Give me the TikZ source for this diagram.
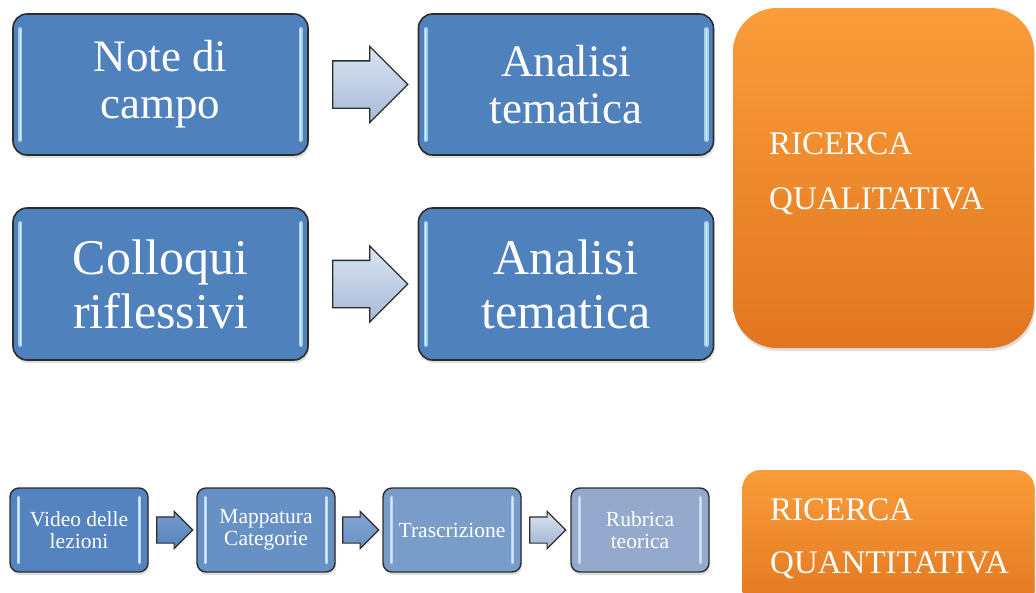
\documentclass[tikz,border=0pt]{standalone}
\usepackage{fontspec}
\setmainfont{LiberationSerif}[Extension=.ttf, UprightFont=*-Regular, BoldFont=*-Bold, ItalicFont=*-Italic, BoldItalicFont=*-BoldItalic]
\usetikzlibrary{shapes.arrows,shadows,calc}
\definecolor{boxblue}{RGB}{79,129,189}
\definecolor{boxline}{RGB}{45,45,45}
\definecolor{bevelblue}{RGB}{165,205,242}
\definecolor{blueA}{RGB}{84,131,191}
\definecolor{blueB}{RGB}{103,145,197}
\definecolor{blueC}{RGB}{122,156,200}
\definecolor{blueD}{RGB}{148,170,204}
\definecolor{arrowtop}{RGB}{218,228,242}
\definecolor{arrowbot}{RGB}{168,186,216}
\definecolor{orangetop}{RGB}{250,157,58}
\definecolor{orangebot}{RGB}{226,118,32}
\tikzset{
  dshadow/.style={drop shadow={shadow xshift=1pt, shadow yshift=-3pt, opacity=0.25}},
  bigbox/.style={draw=boxline, line width=1.6pt, rounded corners=14pt, fill=boxblue,
    text=white, align=center, inner sep=0pt, minimum width=295pt, minimum height=141pt,
    font=\fontsize{45}{47}\selectfont, dshadow},
  smallbox/.style={draw=boxline, line width=1.4pt, rounded corners=9pt,
    text=white, align=center, inner sep=0pt, minimum width=138pt, minimum height=84pt,
    font=\fontsize{21.5}{22}\selectfont, dshadow},
  bigarrow/.style={single arrow, draw=boxline, line width=1.3pt, top color=arrowtop,
    bottom color=arrowbot, minimum width=67pt, minimum height=75pt,
    single arrow head extend=14.5pt, inner xsep=0pt, inner ysep=23pt, outer sep=0pt, anchor=tail},
  smallarrow/.style={single arrow, draw=boxline, line width=1.2pt,
    minimum width=35pt, minimum height=36pt,
    single arrow head extend=5.5pt, inner xsep=0pt, inner ysep=12.5pt, outer sep=0pt, anchor=tail},
  orangebox/.style={rounded corners=#1, top color=orangetop, bottom color=orangebot,
    draw=none, minimum width=301pt, inner sep=0pt, dshadow},
  otext/.style={text=white, align=left, inner sep=0pt, anchor=north west},
  bevel/.style={draw=bevelblue, line width=1.6pt, double=white!70!bevelblue,
    double distance=1.2pt, line cap=round},
  sbevel/.style={draw=bevelblue!80!white, line width=1.2pt, double=white!60!bevelblue,
    double distance=1pt, line cap=round}
}
\begin{document}
\begin{tikzpicture}[x=1pt,y=-1pt]
\useasboundingbox (0,0) rectangle (1036,592);
\fill[white] (0,0) rectangle (1036,592);

% top rows
\node[bigbox] (note) at (160.5,84.5) {Note di\\campo};
\node[bigbox] (an1) at (566,84.5) {Analisi\\tematica};
\node[bigbox, minimum height=152pt, font=\fontsize{50}{54}\selectfont] (coll) at (160.5,284) {Colloqui\\riflessivi};
\node[bigbox, minimum height=152pt, font=\fontsize{50}{54}\selectfont] (an2) at (566,284) {Analisi\\tematica};

\foreach \n in {note,an1,coll,an2}{
  \draw[bevel] ([xshift=8pt,yshift=-16pt]\n.north west) -- ([xshift=8pt,yshift=16pt]\n.south west);
  \draw[bevel] ([xshift=-8pt,yshift=-16pt]\n.north east) -- ([xshift=-8pt,yshift=16pt]\n.south east);
}

\node[bigarrow] (ar1) at ([xshift=24pt]note.east) {};
\node[bigarrow] (ar2) at ([xshift=24pt]coll.east) {};

% qualitative
\node[orangebox=44pt, minimum height=340pt] (qual) at (883.5,178) {};
\node[otext, font=\fontsize{33}{55}\selectfont] (qualt) at (769,132.5) {RICERCA\\QUALITATIVA};

% bottom row
\node[smallbox, fill=blueA] (video) at (79,530) {Video delle\\lezioni};
\node[smallbox, fill=blueB] (mapp) at (266,530) {Mappatura\\Categorie};
\node[smallbox, fill=blueC] (trasc) at (452,530) {Trascrizione};
\node[smallbox, fill=blueD] (rubr) at (640,530) {Rubrica\\teorica};

\foreach \n in {video,mapp,trasc,rubr}{
  \draw[sbevel] ([xshift=9pt,yshift=-10pt]\n.north west) -- ([xshift=9pt,yshift=10pt]\n.south west);
  \draw[sbevel] ([xshift=-9pt,yshift=-10pt]\n.north east) -- ([xshift=-9pt,yshift=10pt]\n.south east);
}

\node[smallarrow, top color=blueA!80!white, bottom color=blueA] (sa1) at ([xshift=8pt]video.east) {};
\node[smallarrow, top color=blueB!80!white, bottom color=blueB] (sa2) at ([xshift=7pt]mapp.east) {};
\node[smallarrow, top color=arrowtop, bottom color=blueD!90!white] (sa3) at ([xshift=8pt]trasc.east) {};

% quantitative
\node[orangebox=18pt, minimum width=292pt, minimum height=140pt] (quant) at (888.5,540) {};
\node[otext, font=\fontsize{33}{53}\selectfont] (quantt) at (770,498.5) {RICERCA\\QUANTITATIVA};
\end{tikzpicture}
\end{document}
